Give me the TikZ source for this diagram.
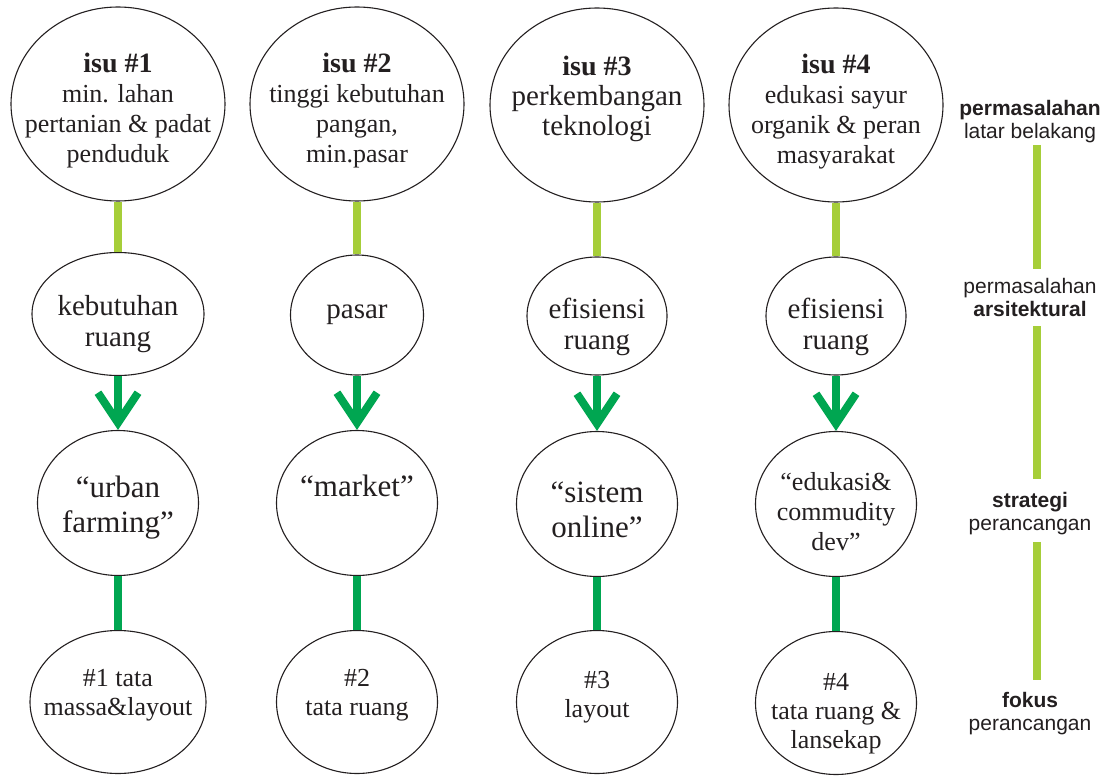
\documentclass[tikz,border=0pt]{standalone}
\usepackage{fontspec}
\setmainfont{Liberation Serif}
\setsansfont{Liberation Sans}
\usetikzlibrary{shapes.geometric, arrows.meta}
\definecolor{leafgreen}{HTML}{A6CE39}
\definecolor{deepgreen}{HTML}{00A651}
\definecolor{inkgray}{HTML}{231F20}

\begin{document}
\begin{tikzpicture}[x=1pt, y=-1pt, text=inkgray]

		% Setup the styles for the bubbles and lines
		\tikzset{bubble/.style 2 args={ellipse,
				draw=inkgray,
				line width=1.1pt,
				inner sep=-80pt,
				minimum width=#1,
				minimum height=#2,
				align=center},
			issue text/.style={font=\fontsize{26}{30}\selectfont},
			need text/.style={font=\fontsize{29}{31}\selectfont},
			goal text/.style={font=\fontsize{31}{35}\selectfont},
			focus text/.style={font=\fontsize{26}{29}\selectfont},
			legend text/.style={font=\sffamily\fontsize{21}{23}\selectfont,
				align=center, inner sep=0pt},
			lime bar/.style={draw=leafgreen, line width=8pt},
			deep bar/.style={draw=deepgreen, line width=8pt}}

		\useasboundingbox (0, 0) rectangle (1118, 778);

		% Draw the issues
		\node[bubble={214pt}{194pt}, issue text] at (118, 104) (isu1) {\rule{0pt}{32pt}{\bfseries\fontsize{28}{30}\selectfont isu \#1}\\min. lahan\\pertanian \& padat\\penduduk};
		\node[bubble={214pt}{194pt}, issue text] at (357, 104) (isu2) {\rule{0pt}{32pt}{\bfseries\fontsize{28}{30}\selectfont isu \#2}\\tinggi kebutuhan\\pangan,\\min.pasar};
		\node[bubble={214pt}{194pt}, issue text] at (597, 105) (isu3) {\rule{0pt}{32pt}{\bfseries\fontsize{28}{30}\selectfont isu \#3}\\\fontsize{29}{30}\selectfont perkembangan\\\fontsize{29}{30}\selectfont teknologi\\\mbox{}};
		\node[bubble={214pt}{194pt}, issue text] at (836, 105) (isu4) {\rule{0pt}{32pt}{\bfseries\fontsize{28}{30}\selectfont isu \#4}\\edukasi sayur\\organik \& peran\\masyarakat};

		% Draw the architectural needs
		\node[bubble={172pt}{123pt}, need text] at (118, 314) (need1) {\rule{0pt}{41pt}kebutuhan\\ruang};
		\node[bubble={133pt}{120pt}, need text] at (357, 315) (need2) {pasar};
		\node[bubble={140pt}{118pt}, need text] at (597, 316) (need3) {\rule{0pt}{43pt}efisiensi\\ruang};
		\node[bubble={140pt}{118pt}, need text] at (836, 316) (need4) {\rule{0pt}{43pt}efisiensi\\ruang};

		% Draw the strategies
		\node[bubble={161pt}{145pt}, goal text] at (118, 503) (goal1) {\rule{0pt}{31pt}“urban\\farming”};
		\node[bubble={161pt}{145pt}, goal text] at (357, 503) (goal2) {“market”\\\mbox{}};
		\node[bubble={161pt}{145pt}, goal text] at (597, 504) (goal3) {\rule{0pt}{33pt}“sistem\\online”};
		\node[bubble={161pt}{145pt}, issue text] at (836, 504) (goal4) {\rule{0pt}{33pt}“edukasi\&\\commudity\\dev”};

		% Draw the focus
		\node[bubble={176pt}{143pt}, focus text, text depth=18.6pt] at (118, 702) (focus1) {\#1 tata\\massa\&layout};
		\node[bubble={161pt}{143pt}, focus text, text depth=18.6pt] at (357, 702) (focus2) {\#2\\tata ruang};
		\node[bubble={161pt}{143pt}, focus text, text depth=14.6pt] at (597, 702) (focus3) {\#3\\layout};
		\node[bubble={161pt}{143pt}, focus text] at (836, 703) (focus4) {\rule{0pt}{39pt}\#4\\tata ruang \&\\lansekap};

		% Draw the legend
		\node[legend text] at (1030, 121.5) (lgA) {\textbf{permasalahan}\\latar belakang};
		\node[legend text] at (1030, 297.5) (lgB) {permasalahan\\\textbf{arsitektural}};
		\node[legend text] at (1030, 513.5) (lgC) {\textbf{strategi}\\perancangan};
		\node[legend text] at (1030, 713.5) (lgD) {\textbf{fokus}\\perancangan};

		% Connect the bubbles
		\draw[lime bar]
		(isu1) edge (need1)
		(isu2) edge (need2)
		(isu3) edge (need3)
		(isu4) edge (need4);
		\draw[deep bar, -{Straight Barb[length=30pt, width=40pt, sharp]}]
		(need1) edge (goal1)
		(need2) edge (goal2)
		(need3) edge (goal3)
		(need4) edge (goal4);
		\draw[deep bar]
		(goal1) edge (focus1)
		(goal2) edge (focus2)
		(goal3) edge (focus3)
		(goal4) edge (focus4);

		% Connect the legend
		\draw[lime bar, shorten <=2pt, shorten >=9pt] ([xshift=7pt]lgA.south) -- ([xshift=7pt]lgB.north);
		\draw[lime bar, shorten <=9.5pt, shorten >=13pt] ([xshift=7pt]lgB.south) -- ([xshift=7pt]lgC.north);
		\draw[lime bar, shorten <=7pt, shorten >=12pt] ([xshift=7pt]lgC.south) -- ([xshift=7pt]lgD.north);
		\end{tikzpicture}
\end{document}
